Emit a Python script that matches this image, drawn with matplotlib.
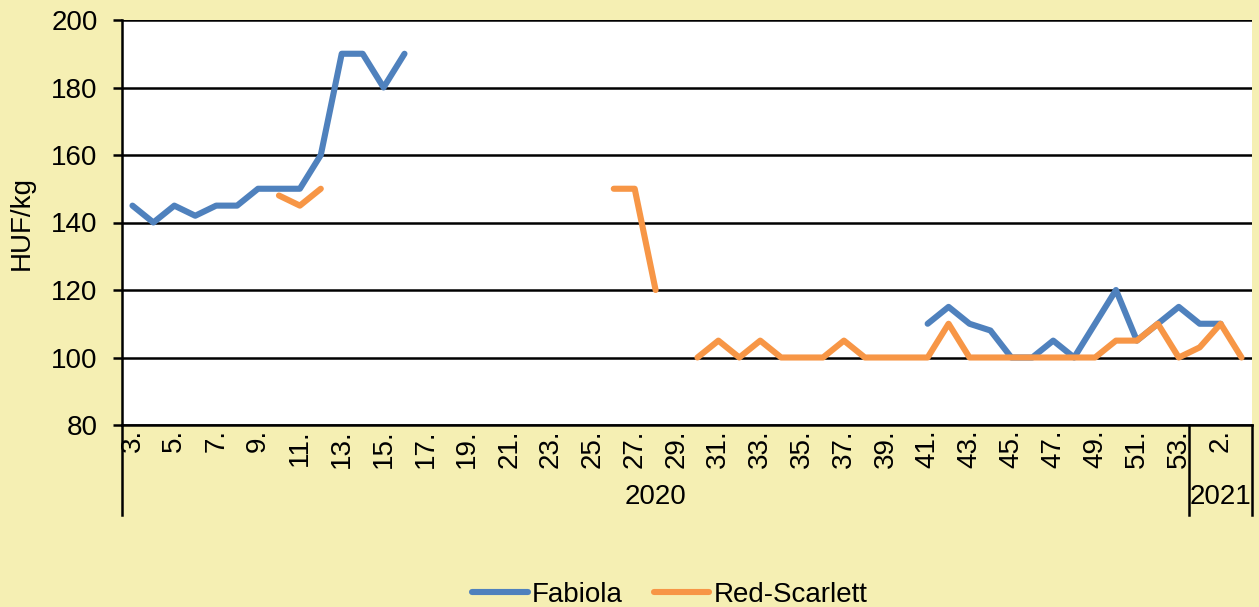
import numpy as np
import matplotlib.pyplot as plt
from matplotlib import transforms

# --- DATOS ---
weeks_2020 = list(range(3, 54))
weeks_2021 = [1, 2, 3]
week_labels = [f"{w}." for w in weeks_2020 + weeks_2021]
years = ["2020", "2021"]

nan = np.nan
# Fabiola (HUF/kg), semana 3/2020 .. 3/2021
fabiola = [145, 140, 145, 142, 145, 145, 150, 150, 150, 160, 190, 190, 180, 190,   # 3-16
           nan, nan, nan, nan, nan, nan, nan, nan, nan, nan, nan, nan, nan,       # 17-29
           nan, nan, nan, nan, nan, nan, nan, nan, nan, nan, nan,                 # 30-40
           110, 115, 110, 108, 100, 100, 105, 100, 110, 120, 105, 110, 115,       # 41-53
           110, 110, nan]                                                         # 1-3
red_scarlett = [nan, nan, nan, nan, nan, nan, nan, 148, 145, 150, nan, nan, nan, nan,  # 3-16
                nan, nan, nan, nan, nan, nan, nan, nan, nan, 150, 150, 120, nan,       # 17-29
                100, 105, 100, 105, 100, 100, 100, 105, 100, 100, 100,                 # 30-40
                100, 110, 100, 100, 100, 100, 100, 100, 100, 105, 105, 110, 100,       # 41-53
                103, 110, 100]                                                         # 1-3

BG = '#F5EFB3'
AZUL = '#4F81BD'
NARANJA = '#F79646'
FS = 20

plt.rcParams['font.family'] = ['Liberation Sans', 'DejaVu Sans']

fig = plt.figure(figsize=(12.59, 6.07), dpi=100, facecolor=BG)
ax = fig.add_axes([122 / 1259, 1 - 425 / 607, (1252 - 122) / 1259, 405 / 607])
ax.set_facecolor('white')

x = np.arange(len(week_labels))
ax.plot(x, fabiola, color=AZUL, lw=4.4, solid_capstyle='round', solid_joinstyle='round', label='Fabiola')
ax.plot(x, red_scarlett, color=NARANJA, lw=4.4, solid_capstyle='round', solid_joinstyle='round', label='Red-Scarlett')

ax.set_xlim(-0.5, len(x) - 0.5)
ax.set_ylim(80, 200)
ax.set_yticks(range(80, 201, 20))
ax.yaxis.grid(True, color='black', lw=1.8)
ax.set_axisbelow(True)
ax.tick_params(axis='y', labelsize=FS, length=6.5, width=1.8, direction='out', pad=11)
ax.set_ylabel('HUF/kg', fontsize=FS, labelpad=12)

ax.set_xticks(x[::2])
ax.set_xticklabels(week_labels[::2], rotation=90, fontsize=FS, va='top', ha='center')
ax.tick_params(axis='x', length=0, pad=3)

for s in ['top', 'right']:
    ax.spines[s].set_visible(False)
ax.spines['left'].set_linewidth(1.8)
ax.spines['bottom'].set_linewidth(1.8)

# Separadores de año bajo el eje
trans = transforms.blended_transform_factory(ax.transData, ax.transAxes)
n20 = len(weeks_2020)
for xv in [-0.5, n20 - 0.5, len(x) - 0.5]:
    ax.plot([xv, xv], [0, -0.222], transform=trans, color='black', lw=1.8, clip_on=False)
ax.text((n20 - 1) / 2, -0.178, years[0], transform=trans, ha='center', va='center', fontsize=FS)
ax.text(n20 + (len(weeks_2021) - 1) / 2, -0.178, years[1], transform=trans, ha='center', va='center', fontsize=FS)

fig.legend(loc='lower center', bbox_to_anchor=(0.532, -0.043), ncol=2, frameon=False, fontsize=FS,
           handlelength=2.0, columnspacing=1.1, handletextpad=0.15)

fig.savefig('out.png', dpi=100, facecolor=BG)
